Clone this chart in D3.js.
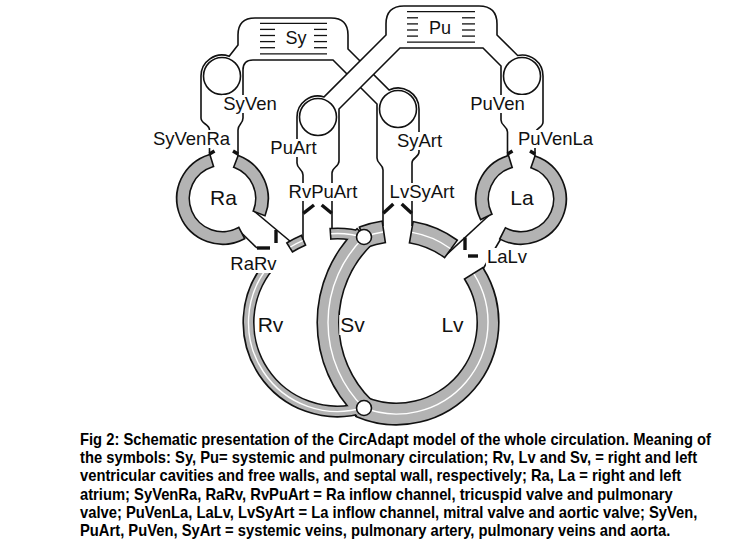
<!DOCTYPE html>
<html>
<head>
<meta charset="utf-8">
<script src="https://cdn.jsdelivr.net/npm/d3@7"></script>
<style>body{margin:0;background:#fff}</style>
</head>
<body>
<svg id="fig" width="734" height="545"></svg>
<script>
// names shown in the schematic
var circulations = ["Sy", "Pu"];
var vessels = ["SyVen", "PuArt", "SyArt", "PuVen"];
var valves = ["SyVenRa", "RvPuArt", "LvSyArt", "PuVenLa", "RaRv", "LaLv"];
var cavities = ["Ra", "La", "Rv", "Sv", "Lv"];
var captionLines = [
  "Fig 2: Schematic presentation of the CircAdapt model of the whole circulation. Meaning of",
  "the symbols: Sy, Pu= systemic and pulmonary circulation; Rv, Lv and Sv, = right and left",
  "ventricular cavities and free walls, and septal wall, respectively; Ra, La = right and left",
  "atrium; SyVenRa, RaRv, RvPuArt = Ra inflow channel, tricuspid valve and pulmonary",
  "valve; PuVenLa, LaLv, LvSyArt = La inflow channel, mitral valve and aortic valve; SyVen,",
  "PuArt, PuVen, SyArt = systemic veins, pulmonary artery, pulmonary veins and aorta."
];

// layout (picture coordinates)
var spot = {
  Sy: [296, 44, 18], Pu: [440, 34, 18],
  SyVen: [250, 110, 18.5], PuVen: [497.5, 110, 18.5],
  PuArt: [293.5, 154, 18.5], SyArt: [419.5, 147, 18.5],
  SyVenRa: [191.5, 145, 18.5], PuVenLa: [555.5, 145, 18.5],
  RvPuArt: [323, 198, 18.5], LvSyArt: [422, 198, 18.5],
  RaRv: [253.5, 270, 18.5], LaLv: [507, 263, 18.5],
  Ra: [223.5, 205, 21], La: [522, 205, 21],
  Rv: [270.5, 332, 21], Sv: [352.5, 332, 21], Lv: [452.5, 332, 21]
};
var walls3 = {
  Ra: {c: [222.5, 198.5], r: [34, 45], segs: [[-69, 21], [62, 253]], mid: false},
  La: {c: [521, 199], r: [33.5, 44.5], segs: [[-71, 117], [154, 253]], mid: false},
  Rv: {c: [337.5, 322.5], r: [84.5, 93.5], segs: [[72.8, 220], [238, 247], [266, 287.2]], mid: true},
  Sv: {c: [447.5, 322.5], r: [109.5, 129.5], segs: [[134.3, 225.7]], mid: true},
  Lv: {c: [396.5, 322.5], r: [81.5, 101.5], segs: [[249.2, 261.5], [279.8, 306], [328, 473]], mid: true}
};
var vesselCentre = {SyVen: [222, 76], PuArt: [318, 117], SyArt: [398, 109], PuVen: [522, 76]};

var GREY = "#b3b3b3", INK = "#111";
var rad = Math.PI / 180;
var svg = d3.select("#fig");

var tubes = svg.append("g").attr("fill", "none").attr("stroke", INK).attr("stroke-width", 1.6);

// systemic loop
var a = d3.path();
a.moveTo(238, 168); a.lineTo(238, 130);
a.bezierCurveTo(238, 124, 243, 124, 243, 118);
a.lineTo(243, 70); a.quadraticCurveTo(243, 60, 253, 60);
a.lineTo(333, 60); a.lineTo(377, 104); a.lineTo(377, 158);
a.bezierCurveTo(377, 164, 383, 164, 383, 170); a.lineTo(383, 226);
tubes.append("path").attr("d", a.toString());

var b = d3.path();
b.moveTo(209.5, 168); b.lineTo(209.5, 130);
b.bezierCurveTo(209.5, 124, 201, 124, 201, 118); b.lineTo(201, 76);
b.arc(222, 76, 21, Math.PI, -70 * rad);
b.lineTo(238, 45); b.lineTo(238, 35); b.quadraticCurveTo(238, 18, 255, 18);
b.lineTo(331, 18); b.quadraticCurveTo(348, 18, 348, 35); b.lineTo(348, 49);
b.arc(398, 109, 21, -115 * rad, 0);
b.lineTo(419, 152); b.bezierCurveTo(419, 157.5, 412, 157.5, 412, 163); b.lineTo(412, 226);
tubes.append("path").attr("d", b.toString());

// pulmonary tube passes over the systemic one
tubes.append("path")
  .attr("d", "M386,35L400,48L339,109L324.1,96.9Z")
  .attr("fill", "#fff").attr("stroke", "none");

var c = d3.path();
c.moveTo(332, 232); c.lineTo(332, 173);
c.bezierCurveTo(332, 167, 339, 167, 339, 161); c.lineTo(339, 109);
c.lineTo(400, 48); c.lineTo(483, 48); c.lineTo(501, 66); c.lineTo(501, 120);
c.bezierCurveTo(501, 126, 507.5, 126, 507.5, 132); c.lineTo(507.5, 168);
tubes.append("path").attr("d", c.toString());

var e = d3.path();
e.moveTo(303, 246); e.lineTo(303, 175);
e.bezierCurveTo(303, 169, 297, 169, 297, 163); e.lineTo(297, 117);
e.arc(318, 117, 21, Math.PI, -73 * rad);
e.lineTo(386, 35); e.lineTo(386, 24); e.quadraticCurveTo(386, 6, 404, 6);
e.lineTo(479, 6); e.quadraticCurveTo(497, 6, 497, 24); e.lineTo(497, 35);
e.arc(522, 76, 21, -102 * rad, 0);
e.lineTo(543, 122); e.bezierCurveTo(543, 128, 535, 128, 535, 134); e.lineTo(535, 168);
tubes.append("path").attr("d", e.toString());

// atrio-ventricular channels
[[254, 211, 297, 247], [240.5, 232, 257, 248], [444, 257, 491, 213.5], [501, 238.5, 483, 269]]
  .forEach(function(l) {
    tubes.append("line").attr("x1", l[0]).attr("y1", l[1]).attr("x2", l[2]).attr("y2", l[3]);
  });

// vessel compartments
tubes.selectAll("circle").data(vessels).enter().append("circle")
  .attr("cx", function(d) { return vesselCentre[d][0]; })
  .attr("cy", function(d) { return vesselCentre[d][1]; })
  .attr("r", 18.5).attr("fill", "#fff");

// stripes in Sy and Pu boxes
var stripes = svg.append("g").attr("stroke", INK).attr("stroke-width", 1.3);
[[260, 327, 275, 314, 23.3], [407, 475, 418, 462, 11.7]].forEach(function(s) {
  for (var k = 0; k < 6; k++) {
    var y = s[4] + k * 6.1;
    if (k == 0 || k == 5) {
      stripes.append("line").attr("x1", s[0]).attr("x2", s[1]).attr("y1", y).attr("y2", y);
    } else {
      stripes.append("line").attr("x1", s[0]).attr("x2", s[2]).attr("y1", y).attr("y2", y);
      stripes.append("line").attr("x1", s[3]).attr("x2", s[1]).attr("y1", y).attr("y2", y);
    }
  }
});

// heart walls
var pieces = [];
cavities.forEach(function(n) {
  var h = walls3[n];
  h.segs.forEach(function(s) {
    pieces.push({c: h.c, r0: h.r[0], r1: h.r[1], a0: s[0], a1: s[1], mid: h.mid});
  });
});
var arcGen = d3.arc();
function band(d) {
  return arcGen({innerRadius: d.r0, outerRadius: d.r1,
    startAngle: (d.a0 + 90) * rad, endAngle: (d.a1 + 90) * rad});
}
var heart = svg.append("g");
heart.selectAll("path.edge").data(pieces).enter().append("path").attr("class", "edge")
  .attr("transform", function(d) { return "translate(" + d.c + ")"; })
  .attr("d", band).attr("fill", GREY).attr("stroke", INK).attr("stroke-width", 3.2);
heart.selectAll("path.body").data(pieces).enter().append("path").attr("class", "body")
  .attr("transform", function(d) { return "translate(" + d.c + ")"; })
  .attr("d", band).attr("fill", GREY);
heart.selectAll("path.mid").data(pieces.filter(function(d) { return d.mid; })).enter()
  .append("path").attr("class", "mid")
  .attr("d", function(d) {
    var p = d3.path();
    p.arc(d.c[0], d.c[1], (d.r0 + d.r1) / 2, d.a0 * rad, d.a1 * rad);
    return p.toString();
  })
  .attr("fill", "none").attr("stroke", "#fff").attr("stroke-width", 1.4);
heart.selectAll("circle").data([[364, 237], [364, 408]]).enter().append("circle")
  .attr("cx", function(d) { return d[0]; }).attr("cy", function(d) { return d[1]; })
  .attr("r", 7.5).attr("fill", "#fff").attr("stroke", INK).attr("stroke-width", 1.6);

// valves
var valveMarks = [
  [257, 248, 270, 248], [276, 230, 276, 243],
  [465, 237.5, 465, 250], [468, 256, 478, 256],
  [303.3, 213.3, 314, 205], [321.7, 205, 331.7, 213.3],
  [383.3, 213.3, 393.3, 204], [401.7, 204, 411.7, 213.3],
  [209.5, 154, 214.5, 151], [238, 154, 233, 151],
  [507.5, 154, 512.5, 151], [535, 154, 530, 151]
];
svg.append("g").attr("stroke", INK).attr("stroke-width", 3.4)
  .selectAll("line").data(valveMarks).enter().append("line")
  .attr("x1", function(d) { return d[0]; }).attr("y1", function(d) { return d[1]; })
  .attr("x2", function(d) { return d[2]; }).attr("y2", function(d) { return d[3]; });

// labels
var lab = svg.append("g").attr("font-family", "'Liberation Sans', Arial, Helvetica, sans-serif").attr("fill", INK);
circulations.concat(vessels, valves, cavities).forEach(function(name) {
  var s = spot[name];
  var g = lab.append("g");
  var r = g.append("rect").attr("fill", "#fff");
  var t = g.append("text").attr("x", s[0]).attr("y", s[1]).attr("font-size", s[2])
    .attr("text-anchor", "middle").text(name);
  if (circulations.indexOf(name) < 0) {
    var bb = t.node().getBBox();
    r.attr("x", bb.x - 1).attr("y", bb.y + 2).attr("width", bb.width + 2).attr("height", bb.height - 3);
  }
});

// caption: one common horizontal squeeze so all lines keep the same glyph width
var cap = svg.append("g")
  .attr("font-family", "'Liberation Sans Narrow', 'Arial Narrow', 'Liberation Sans', Arial, sans-serif")
  .attr("font-weight", "bold").attr("font-size", 16).attr("fill", "#000");
var capText = cap.selectAll("text").data(captionLines).enter().append("text")
  .attr("x", 0).attr("y", 0)
  .text(function(d) { return d; });
var sx = 632 / capText.nodes()[0].getComputedTextLength();
capText.attr("transform", function(d, i) {
  return "translate(80," + (444.5 + i * 18.35) + ") scale(" + sx + ",1)";
});
</script>
</body>
</html>
